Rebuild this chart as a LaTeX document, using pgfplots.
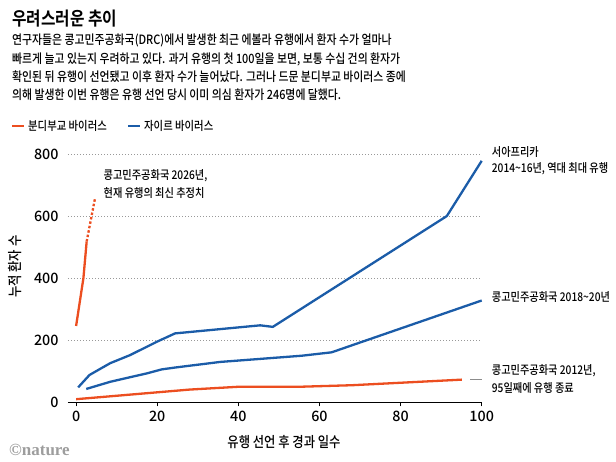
\documentclass[border=0pt]{standalone}
\usepackage{fontspec}
\setmainfont{Noto Sans CJK KR}[FakeStretch=0.85, UprightFont=* Medium, BoldFont=* Bold]
\newfontfamily\numfont{Noto Sans CJK KR}[UprightFont=* Medium]
\newfontfamily\natfont{Liberation Serif}
\usepackage{pgfplots}
\pgfplotsset{compat=1.18}
\definecolor{nor}{HTML}{EC4E20}
\definecolor{nbl}{HTML}{1B5CA8}
\definecolor{ngr}{HTML}{8C8C8C}
\newcommand{\fs}[1]{\fontsize{#1}{#1}\selectfont}
\begin{document}
\begin{tikzpicture}
\path[use as bounding box] (0pt,0pt) rectangle (616pt,462pt);
% title and text
\node[anchor=base west, inner sep=0pt, font=\fs{18.5}\bfseries] at (12pt,436pt) {우려스러운 추이};
\begin{scope}[every node/.style={anchor=base west, inner sep=0pt, font=\fs{12.8}}]
\node at (12pt,417pt) {연구자들은 콩고민주공화국(DRC)에서 발생한 최근 에볼라 유행에서 환자 수가 얼마나};
\node at (12pt,398.7pt) {빠르게 늘고 있는지 우려하고 있다. 과거 유행의 첫 100일을 보면, 보통 수십 건의 환자가};
\node at (12pt,380.4pt) {확인된 뒤 유행이 선언됐고 이후 환자 수가 늘어났다. 그러나 드문 분디부교 바이러스 종에};
\node at (12pt,362.1pt) {의해 발생한 이번 유행은 유행 선언 당시 이미 의심 환자가 246명에 달했다.};
\end{scope}
% legend
\draw[nor, line width=2.5pt] (12pt,336pt) -- (24pt,336pt);
\node[anchor=base west, inner sep=0pt, font=\fs{12.2}] at (28pt,331.5pt) {분디부교 바이러스};
\draw[nbl, line width=2.5pt] (128pt,336pt) -- (140pt,336pt);
\node[anchor=base west, inner sep=0pt, font=\fs{12.2}] at (144pt,331.5pt) {자이르 바이러스};
% axis labels
\node[rotate=90, inner sep=0pt, font=\fs{14.5}] at (15pt,195.3pt) {누적 환자 수};
\node[inner sep=0pt, font=\fs{14.5}] at (284pt,20.3pt) {유행 선언 후 경과 일수};
\node[anchor=west, inner sep=0pt, font=\fs{17}\natfont\bfseries, color=ngr!85] at (9pt,12pt) {©nature};
\begin{axis}[
  at={(68pt,59.7pt)}, anchor=south west,
  scale only axis, width=413.7pt, height=248.3pt,
  xmin=-2, xmax=100, ymin=0, ymax=800,
  clip=false,
  axis x line*=bottom, axis y line*=left,
  x axis line style={black, line width=1.3pt},
  y axis line style={draw=none},
  xtick={0,20,...,100}, ytick={0,200,...,800},
  ytick style={draw=none},
  xtick style={black, line width=0.6pt},
  tick align=outside, major tick length=4pt,
  ymajorgrids, grid style={gray!80, line width=0.9pt, dash pattern=on 0.9pt off 2.1pt},
  tick label style={font=\fs{14.3}\numfont},
  /pgf/number format/assume math mode=true,
  yticklabel style={xshift=-2pt},
  xticklabel style={yshift=-1pt},
  line join=round,
]
\addplot[nor, line width=2.3pt] coordinates {(0,10) (28,41) (40,50) (55,50) (68,55) (95.1,73)};
\addplot[nbl, line width=2.3pt] coordinates {(2.5,43) (8.4,66) (13.7,82) (17.4,93) (21.1,106) (24.4,112) (35.5,130) (55.6,150) (63,161) (100,328)};
\addplot[nbl, line width=2.3pt] coordinates {(0.5,48) (3.3,88) (8.4,126) (13.3,152) (19.9,195) (24.4,222) (45.4,248) (48.5,243) (91.4,600) (100,778)};
\addplot[nor, line width=2.3pt] coordinates {(0,246) (1.8,400) (2.6,518)};
\addplot[nor, line width=2.3pt, dash pattern=on 2.5pt off 2pt] coordinates {(2.6,518) (4.7,660)};
\draw[ngr, line width=0.8pt] (axis cs:97.2,74) -- (axis cs:100,74);
\end{axis}
% annotations
\begin{scope}[every node/.style={anchor=base west, inner sep=0pt, font=\fs{12}}]
\node at (103.5pt,282.3pt) {콩고민주공화국 2026년,};
\node at (103.5pt,264.6pt) {현재 유행의 최신 추정치};
\node at (491.7pt,305.8pt) {서아프리카};
\node at (491.7pt,289.2pt) {2014\textasciitilde16년, 역대 최대 유행};
\node at (491.7pt,160.8pt) {콩고민주공화국 2018\textasciitilde20년};
\node at (491.7pt,87.5pt) {콩고민주공화국 2012년,};
\node at (491.7pt,69.2pt) {95일째에 유행 종료};
\end{scope}
\end{tikzpicture}
\end{document}
